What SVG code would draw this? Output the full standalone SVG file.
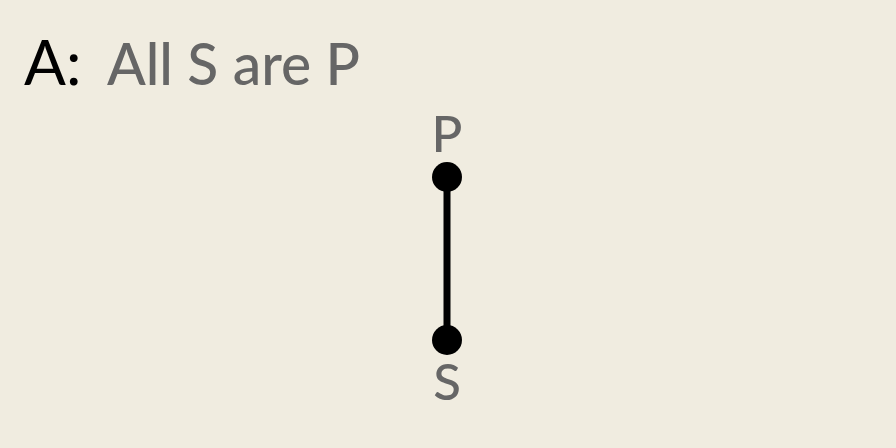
<svg xmlns="http://www.w3.org/2000/svg" width="896" height="448" viewBox="0 0 896 448">
<style>
.lbl{font-family:Lato,"Open Sans","Liberation Sans",sans-serif;fill:#666666;font-weight:500;}
</style>
<rect width="896" height="448" fill="#f0ece0"/>
<g id="title">
<text x="24" y="85" font-family="Lato,'Liberation Sans',sans-serif" font-size="62" fill="#000">A:</text>
<text class="lbl" x="107" y="85" font-size="57">All S are P</text>
</g>
<g id="connectors">
<line x1="447" y1="177" x2="447" y2="340" stroke="#000" stroke-width="7"/>
</g>
<g id="node-P">
<circle cx="447" cy="177" r="15" fill="#000"/>
<text class="lbl" x="447" y="152" font-size="51" text-anchor="middle">P</text>
</g>
<g id="node-S">
<circle cx="447" cy="340" r="15" fill="#000"/>
<text class="lbl" x="447" y="400" font-size="51" text-anchor="middle">S</text>
</g>
</svg>
